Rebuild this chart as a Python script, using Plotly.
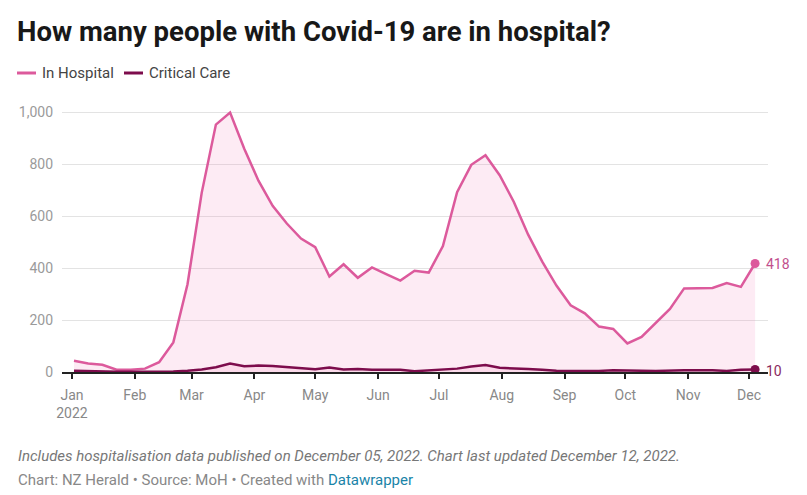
import pandas as pd
import plotly.graph_objects as go

dates = pd.date_range("2022-01-02", "2022-12-04", freq="7D")

in_hospital = [43, 33, 28, 9, 9, 13, 38, 114, 338, 690, 953, 999, 860, 737, 640, 572,
               514, 481, 368, 415, 363, 403, 377, 352, 390, 383, 485, 693, 798, 835,
               758, 655, 530, 425, 333, 257, 226, 175, 166, 110, 135, 188, 243, 322,
               322, 324, 343, 328, 418]
critical_care = [5, 3, 2, 1, 1, 1, 1, 2, 5, 10, 18, 33, 22, 25, 23, 19, 17, 11, 17, 10,
                 12, 9, 9, 9, 3, 6, 10, 13, 21, 27, 16, 15, 12, 9, 5, 4, 4, 4, 7, 7, 5,
                 4, 6, 7, 7, 7, 4, 9, 10]

month_ticks = pd.date_range("2022-01-01", "2022-12-01", freq="MS")
month_labels = ["Jan<br>2022", "Feb", "Mar", "Apr", "May", "Jun", "Jul", "Aug",
                "Sep", "Oct", "Nov", "Dec"]
y_ticks = [0, 200, 400, 600, 800, 1000]
y_labels = ["0", "200", "400", "600", "800", "1,000"]

PINK = "#dc5a9c"
MAROON = "#7d0c4c"
FONT = "Roboto"

# layout helpers (pixels -> paper coords)
L, R, T, B = 62, 39, 102, 123
PW = 807 - L - R
PH = 495 - T - B


def px_x(px):
    return (px - L) / PW


def px_y(py):
    return (495 - B - py) / PH


fig = go.Figure()
fig.add_trace(go.Scatter(x=dates, y=in_hospital, mode="lines", name="In Hospital",
                         line=dict(color=PINK, width=2.5), fill="tozeroy",
                         fillcolor="rgba(240,120,180,0.15)", hoverinfo="skip"))
fig.add_trace(go.Scatter(x=dates, y=critical_care, mode="lines", name="Critical Care",
                         line=dict(color=MAROON, width=2.5), fill="tozeroy",
                         fillcolor="rgba(240,120,180,0.15)", hoverinfo="skip"))
# end points
fig.add_trace(go.Scatter(x=[dates[-1]], y=[in_hospital[-1]], mode="markers",
                         marker=dict(color=PINK, size=9), cliponaxis=False,
                         showlegend=False, hoverinfo="skip"))
fig.add_trace(go.Scatter(x=[dates[-1]], y=[critical_care[-1]], mode="markers",
                         marker=dict(color=MAROON, size=9), cliponaxis=False,
                         showlegend=False, hoverinfo="skip"))
# end labels
fig.add_annotation(x=dates[-1], y=in_hospital[-1], text=str(in_hospital[-1]),
                   xanchor="left", yanchor="middle", xshift=9, yshift=-1,
                   showarrow=False, font=dict(color="#c2508d", size=14, family=FONT))
fig.add_annotation(x=dates[-1], y=critical_care[-1], text=str(critical_care[-1]),
                   xanchor="left", yanchor="middle", xshift=9, yshift=-2,
                   showarrow=False, font=dict(color="#8a2a60", size=14, family=FONT))

fig.update_layout(
    width=807, height=495,
    margin=dict(l=L, r=R, t=T, b=B),
    paper_bgcolor="white", plot_bgcolor="white",
    font=dict(family=FONT, size=14, color="#333"),
    showlegend=False,
    title=dict(text="<b>How many people with Covid-19 are in hospital?</b>",
               x=0, xref="container", xanchor="left", y=1, yref="container",
               yanchor="top", pad=dict(t=22, l=17),
               font=dict(family=FONT, size=27.5, color="#181818")),
)

fig.update_xaxes(range=["2021-12-27 02:00", "2022-12-10 09:00"],
                 tickvals=month_ticks, ticktext=month_labels,
                 ticks="outside", ticklen=5, tickwidth=1.5, tickcolor="#222",
                 showline=True, linecolor="#222", linewidth=1.5,
                 showgrid=False, zeroline=False, ticklabelstandoff=4,
                 tickfont=dict(color="#888", size=14, family=FONT))
fig.update_yaxes(range=[0, 1040], tickvals=y_ticks, ticktext=y_labels,
                 showgrid=True, gridcolor="#e3e3e3", gridwidth=1,
                 zeroline=False, showline=False, ticks="",
                 ticklabelstandoff=8,
                 tickfont=dict(color="#9a9a9a", size=14, family=FONT))

# manual legend
LEG_Y = px_y(73)
fig.add_shape(type="line", xref="paper", yref="paper", x0=px_x(17), x1=px_x(36),
              y0=LEG_Y, y1=LEG_Y, line=dict(color=PINK, width=3))
fig.add_shape(type="line", xref="paper", yref="paper", x0=px_x(124), x1=px_x(143),
              y0=LEG_Y, y1=LEG_Y, line=dict(color=MAROON, width=3))
fig.add_annotation(text="In Hospital", xref="paper", yref="paper",
                   x=px_x(40), y=LEG_Y, xanchor="left", yanchor="middle",
                   showarrow=False, font=dict(size=15, color="#444", family=FONT))
fig.add_annotation(text="Critical Care", xref="paper", yref="paper",
                   x=px_x(147), y=LEG_Y, xanchor="left", yanchor="middle",
                   showarrow=False, font=dict(size=15, color="#444", family=FONT))

# footer
fig.add_annotation(text="<i>Includes hospitalisation data published on December 05, 2022. "
                        "Chart last updated December 12, 2022.</i>",
                   xref="paper", yref="paper", x=px_x(16), y=px_y(456),
                   xanchor="left", yanchor="middle", showarrow=False,
                   font=dict(size=15, color="#777", family=FONT))
fig.add_annotation(text="Chart: NZ Herald • Source: MoH • Created with "
                        "<span style='color:#1a84a8'>Datawrapper</span>",
                   xref="paper", yref="paper", x=px_x(16), y=px_y(480),
                   xanchor="left", yanchor="middle", showarrow=False,
                   font=dict(size=15, color="#888", family=FONT))

fig.write_html("out.html", config={"displayModeBar": False},
               post_script="document.body.style.margin='0';")
